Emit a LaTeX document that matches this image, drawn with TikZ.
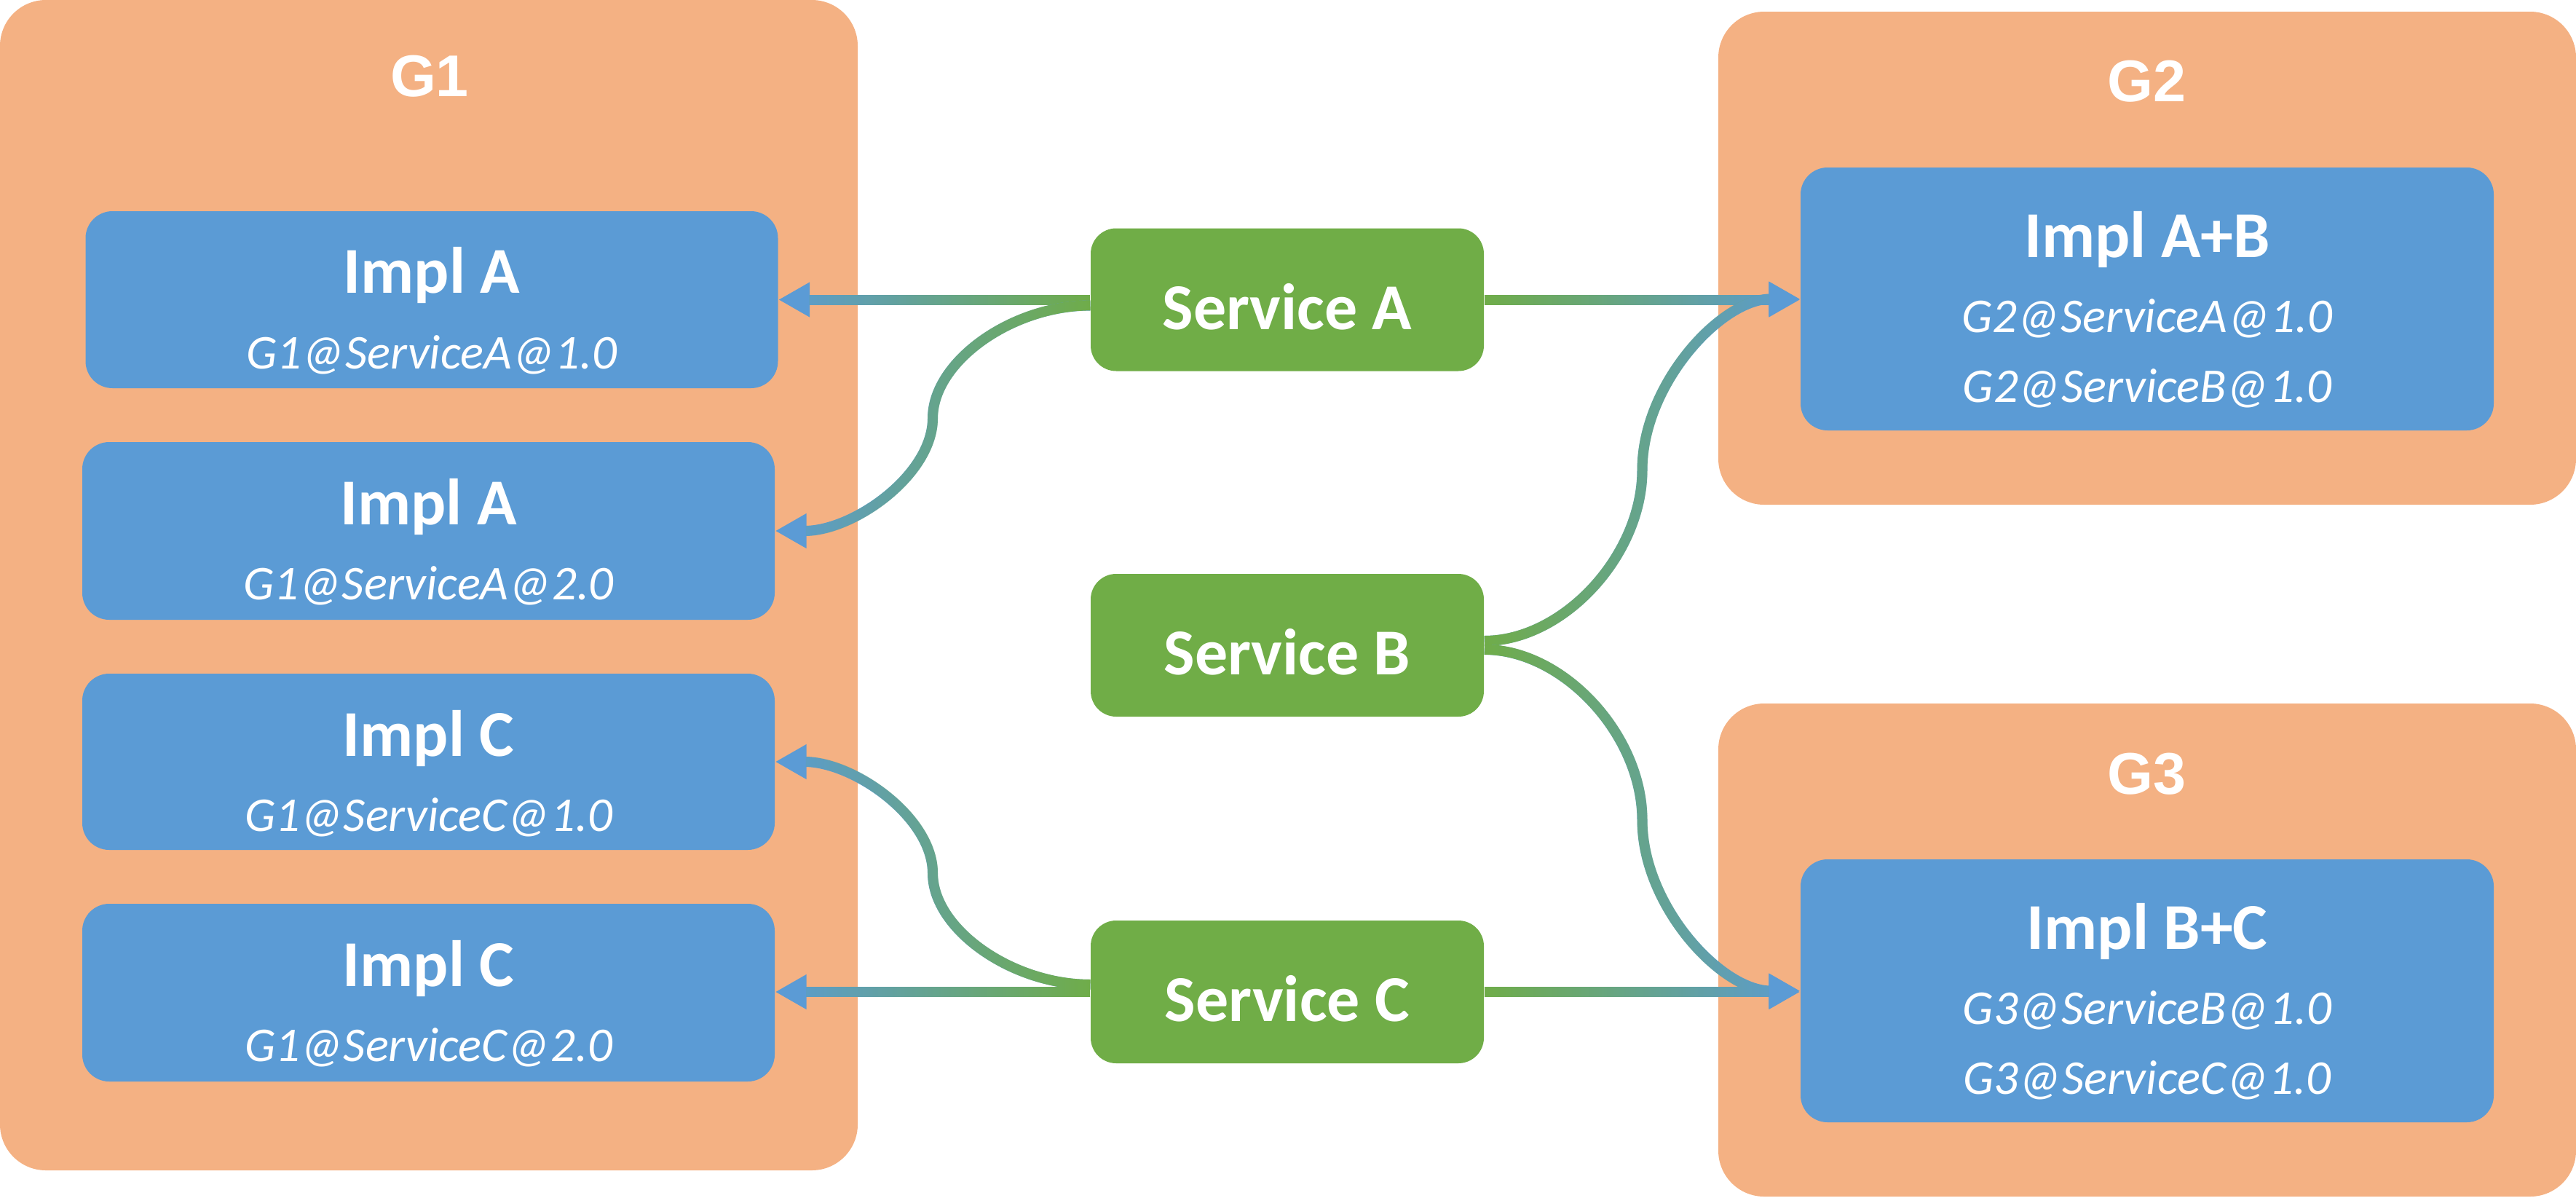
\documentclass[tikz,border=0pt]{standalone}
\usepackage{fontspec}
\setmainfont{Carlito}
\newfontfamily\grpfont{Liberation Sans}
\usetikzlibrary{arrows.meta,calc,fadings}

\definecolor{grpfill}{HTML}{F4B183}
\definecolor{implfill}{HTML}{5B9BD5}
\definecolor{svcfill}{HTML}{70AD47}
\definecolor{linkblue}{HTML}{5B9BD5}
\definecolor{linkgreen}{HTML}{70AD47}

% green part of a link: opaque at the service end, clear at the tip end
\tikzfading[name=fadetoeast, left color=transparent!0, right color=transparent!100]
\tikzfading[name=fadetowest, left color=transparent!100, right color=transparent!0]

\tikzset{
  grp/.style={fill=grpfill, rounded corners=0.63cm, inner sep=0, minimum width=11.78cm},
  impl/.style={fill=implfill, rounded corners=0.37cm, inner sep=0, minimum width=9.51cm},
  svc/.style={fill=svcfill, rounded corners=0.35cm, inner sep=0, minimum width=5.40cm, minimum height=1.96cm},
  ttl/.style={anchor=base, inner sep=0, text=white, font=\bfseries\fontsize{25.6}{30}\selectfont},
  sub/.style={anchor=base, inner sep=0, text=white, font=\itshape\fontsize{19}{22}\selectfont},
  grplabel/.style={anchor=base, inner sep=0, text=white, font=\grpfont\bfseries\fontsize{23}{27}\selectfont},
  wire/.style={line width=0.14cm},
  tip/.style={-{Triangle[length=0.43cm,width=0.45cm]}}
}

% straight link: blue line with arrow, green overlay fading out towards the tip
\newcommand\straightflow[3]{%
  \draw[wire, linkblue, tip] (#2) -- (#3);
  \draw[wire, linkgreen, path fading=#1, shorten >=0.42cm]
    ($(#2)+(0,0.3)$) ($(#2)+(0,-0.3)$) (#2) -- (#3);
}
% S-shaped link: horizontal at both ends, vertical half way
\newcommand\curvepath[2]{%
  let \p1=(#1), \p2=(#2) in
  (\p1) .. controls ({(3*\x1+\x2)/4},\y1) and ({(\x1+\x2)/2},{(3*\y1+\y2)/4})
  .. ({(\x1+\x2)/2},{(\y1+\y2)/2})
  .. controls ({(\x1+\x2)/2},{(\y1+3*\y2)/4}) and ({(\x1+3*\x2)/4},\y2) .. (\p2)
}
\newcommand\curveflow[3]{%
  \draw[wire, linkblue, tip] \curvepath{#2}{#3};
  \draw[wire, linkgreen, path fading=#1, shorten >=0.42cm] \curvepath{#2}{#3};
}

\begin{document}
\begin{tikzpicture}[x=1cm,y=-1cm]
\useasboundingbox (0,0) rectangle (35.38,16.45);

% groups
\node[grp, minimum height=16.07cm] (g1) at (5.89,8.035) {};
\node[grp, minimum height=6.77cm] (g2) at (29.49,3.545) {};
\node[grp, minimum height=6.77cm] (g3) at (29.49,13.045) {};
\node[grplabel] (g1t) at (5.90,1.32) {G1};
\node[grplabel] (g2t) at (29.48,1.39) {G2};
\node[grplabel] (g3t) at (29.48,10.90) {G3};

% implementations in G1
\node[impl, minimum height=2.43cm] (a1) at (5.93,4.115) {};
\node[impl, minimum height=2.44cm] (a2) at (5.885,7.29) {};
\node[impl, minimum height=2.42cm] (c1) at (5.885,10.46) {};
\node[impl, minimum height=2.44cm] (c2) at (5.885,13.63) {};
\node[ttl] (a1t) at (5.93,4.02) {Impl A};
\node[sub] (a1s) at (5.93,5.06) {G1@ServiceA@1.0};
\node[ttl] (a2t) at (5.885,7.20) {Impl A};
\node[sub] (a2s) at (5.885,8.23) {G1@ServiceA@2.0};
\node[ttl] (c1t) at (5.885,10.38) {Impl C};
\node[sub] (c1s) at (5.885,11.41) {G1@ServiceC@1.0};
\node[ttl] (c2t) at (5.885,13.54) {Impl C};
\node[sub] (c2s) at (5.885,14.57) {G1@ServiceC@2.0};

% implementations in G2 and G3
\node[impl, minimum width=9.52cm, minimum height=3.61cm] (ab) at (29.49,4.105) {};
\node[ttl] (abt) at (29.49,3.53) {Impl A+B};
\node[sub] (abs1) at (29.49,4.56) {G2@ServiceA@1.0};
\node[sub] (abs2) at (29.49,5.52) {G2@ServiceB@1.0};
\node[impl, minimum width=9.52cm, minimum height=3.61cm] (bc) at (29.49,13.605) {};
\node[ttl] (bct) at (29.49,13.03) {Impl B+C};
\node[sub] (bcs1) at (29.49,14.06) {G3@ServiceB@1.0};
\node[sub] (bcs2) at (29.49,15.02) {G3@ServiceC@1.0};

% services
\node[svc] (sa) at (17.68,4.115) {};
\node[svc] (sb) at (17.68,8.86) {};
\node[svc] (sc) at (17.68,13.62) {};
\node[ttl] (sat) at (17.68,4.52) {Service A};
\node[ttl] (sbt) at (17.68,9.26) {Service B};
\node[ttl] (sct) at (17.68,14.02) {Service C};

% links
\straightflow{fadetowest}{sa.west}{sa.west -| a1.east}
\straightflow{fadetoeast}{sa.east}{sa.east -| ab.west}
\curveflow{fadetowest}{$(sa.west)+(0,0.08)$}{a2.east}
\curveflow{fadetoeast}{$(sb.east)+(0,-0.06)$}{ab.west}
\curveflow{fadetoeast}{$(sb.east)+(0,0.06)$}{bc.west}
\curveflow{fadetowest}{$(sc.west)+(0,-0.1)$}{c1.east}
\straightflow{fadetowest}{sc.west}{sc.west -| c2.east}
\straightflow{fadetoeast}{sc.east}{sc.east -| bc.west}
\end{tikzpicture}
\end{document}
